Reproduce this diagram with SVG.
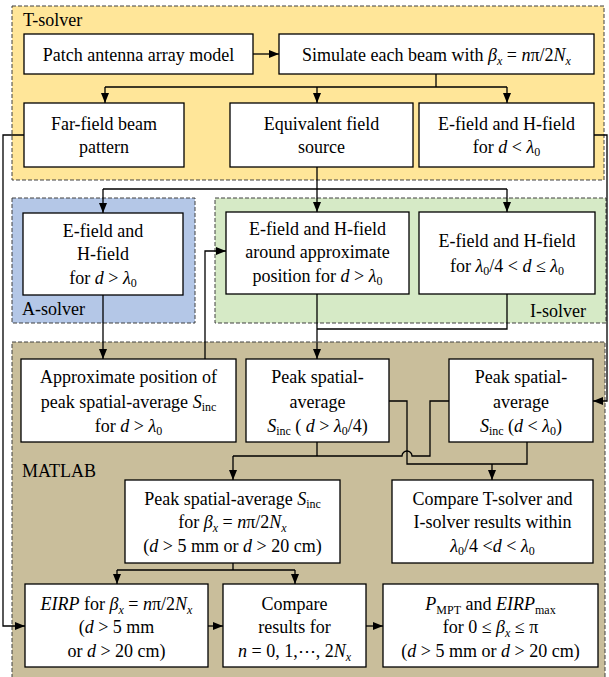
<svg xmlns="http://www.w3.org/2000/svg" width="609" height="677" viewBox="0 0 609 677">
<style>
.b{fill:#fff;stroke:#000;stroke-width:1.3}
.t{font-family:'Liberation Serif','Times New Roman',Tinos,'DejaVu Serif',serif;font-size:18px;fill:#000}
.m{text-anchor:middle}
.i{font-style:italic}
.s{font-size:12px}
.c{stroke:#000;stroke-width:1.3;fill:none}
.g{stroke:#404040;stroke-dasharray:4 2;stroke-width:1}
</style>
<defs>
<marker id="a" markerUnits="userSpaceOnUse" markerWidth="10" markerHeight="10" viewBox="0 0 10 10" refX="10" refY="5" orient="auto">
<path d="M0,1 L10,5 L0,9 Z" fill="#000"/>
</marker>
</defs>
<rect width="609" height="677" fill="#fff"/>
<g font-family="Liberation Serif, Times New Roman, DejaVu Serif, serif">
<g id="tsolver">
<rect class="g" x="12" y="6" width="592" height="174" fill="#FFE699"/>
<text class="t" x="23" y="26">T-solver</text>
</g>
<g id="asolver">
<rect class="g" x="12" y="198" width="183" height="125" fill="#B4C7E7"/>
<text class="t" x="22" y="315">A-solver</text>
</g>
<g id="isolver">
<rect class="g" x="215" y="198" width="391" height="125" fill="#D6EAC6"/>
<text class="t" x="586" y="317" text-anchor="end">I-solver</text>
</g>
<g id="matlab">
<rect class="g" x="12" y="342" width="593" height="340" fill="#C9BE9B"/>
<text class="t" x="22" y="477">MATLAB</text>
</g>
<g id="connectors">
<path class="c" d="M253,54 H279" marker-end="url(#a)"/>
<path class="c" d="M436,74 V87 M105,87 H507"/>
<path class="c" d="M105,87 V103" marker-end="url(#a)"/>
<path class="c" d="M317,87 V103" marker-end="url(#a)"/>
<path class="c" d="M507,87 V103" marker-end="url(#a)"/>
<path class="c" d="M24,135 H3 V626 H25" marker-end="url(#a)"/>
<path class="c" d="M594,135 H607 V401 H593" marker-end="url(#a)"/>
<path class="c" d="M317,167 V189 M103,189 H507"/>
<path class="c" d="M103,189 V213" marker-end="url(#a)"/>
<path class="c" d="M317,189 V212" marker-end="url(#a)"/>
<path class="c" d="M507,189 V212" marker-end="url(#a)"/>
<path class="c" d="M103,295 V359" marker-end="url(#a)"/>
<path class="c" d="M205,359 V251 H226" marker-end="url(#a)"/>
<path class="c" d="M317,294 V359" marker-end="url(#a)"/>
<path class="c" d="M507,294 V329 H317"/>
<path class="c" d="M389,401 H407 V464 H527 V442"/>
<path class="c" d="M492,464 V480" marker-end="url(#a)"/>
<path class="c" d="M317,442 V456 M233,456 H402 A5,5 0 0 1 412,456 H430 V401 H449"/>
<path class="c" d="M233,456 V480" marker-end="url(#a)"/>
<path class="c" d="M233,563 V570 M117,570 H295"/>
<path class="c" d="M117,570 V584" marker-end="url(#a)"/>
<path class="c" d="M295,570 V584" marker-end="url(#a)"/>
<path class="c" d="M208,626 H223" marker-end="url(#a)"/>
<path class="c" d="M366,626 H383" marker-end="url(#a)"/>
</g>
<g id="patch">
<rect class="b" x="24" y="34" width="229" height="40"/>
<text class="t m" x="138.5" y="61">Patch antenna array model</text>
</g>
<g id="simulate">
<rect class="b" x="279" y="34" width="315" height="40"/>
<text class="t m" x="436.5" y="61">Simulate each beam with <tspan class="i">β</tspan><tspan class="s i" dy="4">x</tspan><tspan dy="-4"> = </tspan><tspan class="i">n</tspan>π/2<tspan class="i">N</tspan><tspan class="s i" dy="4">x</tspan></text>
</g>
<g id="farfield">
<rect class="b" x="24" y="103" width="160" height="64"/>
<text class="t m" x="104" y="130">Far-field beam</text>
<text class="t m" x="104" y="153">pattern</text>
</g>
<g id="equivalent">
<rect class="b" x="230" y="103" width="183" height="64"/>
<text class="t m" x="321.5" y="130">Equivalent field</text>
<text class="t m" x="321.5" y="153">source</text>
</g>
<g id="efield-near">
<rect class="b" x="419" y="103" width="175" height="64"/>
<text class="t m" x="506.5" y="130">E-field and H-field</text>
<text class="t m" x="506.5" y="153">for <tspan class="i">d</tspan> &lt; <tspan class="i">λ</tspan><tspan class="s" dy="3">0</tspan></text>
</g>
<g id="efield-far">
<rect class="b" x="23" y="213" width="160" height="82"/>
<text class="t m" x="103" y="237">E-field and</text>
<text class="t m" x="103" y="260">H-field</text>
<text class="t m" x="103" y="284">for <tspan class="i">d</tspan> &gt; <tspan class="i">λ</tspan><tspan class="s" dy="3">0</tspan></text>
</g>
<g id="efield-approx">
<rect class="b" x="226" y="212" width="183" height="82"/>
<text class="t m" x="317.5" y="235">E-field and H-field</text>
<text class="t m" x="317.5" y="258">around approximate</text>
<text class="t m" x="317.5" y="282">position for  <tspan class="i">d</tspan> &gt; <tspan class="i">λ</tspan><tspan class="s" dy="3">0</tspan></text>
</g>
<g id="efield-mid">
<rect class="b" x="419" y="212" width="176" height="82"/>
<text class="t m" x="507" y="247">E-field and H-field</text>
<text class="t m" x="507" y="272">for <tspan class="i">λ</tspan><tspan class="s" dy="3">0</tspan><tspan dy="-3">/4 &lt; </tspan><tspan class="i">d</tspan> ≤ <tspan class="i">λ</tspan><tspan class="s" dy="3">0</tspan></text>
</g>
<g id="approx">
<rect class="b" x="21" y="359" width="215" height="83"/>
<text class="t m" x="128.5" y="383">Approximate position of</text>
<text class="t m" x="128.5" y="408">peak spatial-average <tspan class="i">S</tspan><tspan class="s" dy="3">inc</tspan></text>
<text class="t m" x="128.5" y="432">for <tspan class="i">d</tspan> &gt; <tspan class="i">λ</tspan><tspan class="s" dy="3">0</tspan></text>
</g>
<g id="peak-mid">
<rect class="b" x="246" y="359" width="143" height="83"/>
<text class="t m" x="317.5" y="383">Peak spatial-</text>
<text class="t m" x="317.5" y="408">average</text>
<text class="t m" x="317.5" y="432"><tspan class="i">S</tspan><tspan class="s" dy="3">inc</tspan><tspan dy="-3"> ( </tspan><tspan class="i">d</tspan> &gt; <tspan class="i">λ</tspan><tspan class="s" dy="3">0</tspan><tspan dy="-3">/4)</tspan></text>
</g>
<g id="peak-near">
<rect class="b" x="449" y="359" width="144" height="83"/>
<text class="t m" x="521" y="383">Peak spatial-</text>
<text class="t m" x="521" y="408">average</text>
<text class="t m" x="521" y="432"><tspan class="i">S</tspan><tspan class="s" dy="3">inc</tspan><tspan dy="-3"> (</tspan><tspan class="i">d</tspan> &lt; <tspan class="i">λ</tspan><tspan class="s" dy="3">0</tspan><tspan dy="-3">)</tspan></text>
</g>
<g id="peak-beta">
<rect class="b" x="125" y="480" width="215" height="83"/>
<text class="t m" x="232.5" y="505">Peak spatial-average <tspan class="i">S</tspan><tspan class="s" dy="3">inc</tspan></text>
<text class="t m" x="232.5" y="528">for <tspan class="i">β</tspan><tspan class="s i" dy="4">x</tspan><tspan dy="-4"> = </tspan><tspan class="i">n</tspan>π/2<tspan class="i">N</tspan><tspan class="s i" dy="4">x</tspan></text>
<text class="t m" x="232.5" y="552">(<tspan class="i">d</tspan> &gt; 5 mm or <tspan class="i">d</tspan> &gt; 20 cm)</text>
</g>
<g id="compare-ti">
<rect class="b" x="392" y="480" width="201" height="83"/>
<text class="t m" x="492.5" y="505">Compare T-solver and</text>
<text class="t m" x="492.5" y="528">I-solver results within</text>
<text class="t m" x="492.5" y="552"><tspan class="i">λ</tspan><tspan class="s" dy="3">0</tspan><tspan dy="-3">/4 &lt;</tspan><tspan class="i">d</tspan> &lt; <tspan class="i">λ</tspan><tspan class="s" dy="3">0</tspan></text>
</g>
<g id="eirp">
<rect class="b" x="25" y="584" width="183" height="83"/>
<text class="t m" x="116.5" y="610"><tspan class="i">EIRP</tspan> for <tspan class="i">β</tspan><tspan class="s i" dy="4">x</tspan><tspan dy="-4"> = </tspan><tspan class="i">n</tspan>π/2<tspan class="i">N</tspan><tspan class="s i" dy="4">x</tspan></text>
<text class="t m" x="116.5" y="633">(<tspan class="i">d</tspan> &gt; 5 mm</text>
<text class="t m" x="116.5" y="657">or <tspan class="i">d</tspan> &gt; 20 cm)</text>
</g>
<g id="compare-n">
<rect class="b" x="223" y="584" width="143" height="83"/>
<text class="t m" x="294.5" y="610">Compare</text>
<text class="t m" x="294.5" y="633">results for</text>
<text class="t m" x="294.5" y="657"><tspan class="i">n</tspan> = 0, 1,⋯, 2<tspan class="i">N</tspan><tspan class="s i" dy="4">x</tspan></text>
</g>
<g id="pmpt">
<rect class="b" x="383" y="584" width="215" height="83"/>
<text class="t m" x="490.5" y="610"><tspan class="i">P</tspan><tspan class="s" dy="4">MPT</tspan><tspan dy="-4"> and </tspan><tspan class="i">EIRP</tspan><tspan class="s" dy="4">max</tspan></text>
<text class="t m" x="490.5" y="633">for 0 ≤ <tspan class="i">β</tspan><tspan class="s i" dy="4">x</tspan><tspan dy="-4"> ≤ π</tspan></text>
<text class="t m" x="490.5" y="657">(<tspan class="i">d</tspan> &gt; 5 mm or <tspan class="i">d</tspan> &gt; 20 cm)</text>
</g>
</g>
</svg>
